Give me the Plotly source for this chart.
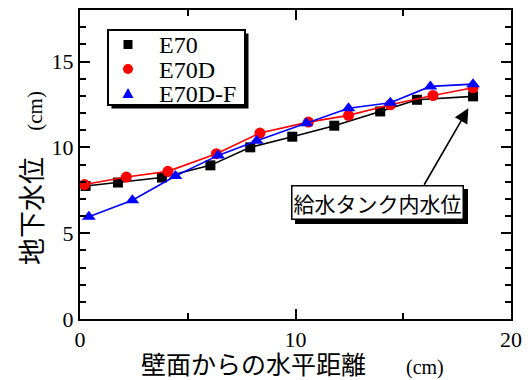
import plotly.graph_objects as go

# ---- data ----
e70_x = [0.26, 1.76, 3.80, 6.05, 7.90, 9.85, 11.80, 13.93, 15.64, 18.24]
e70_y = [7.75, 7.95, 8.24, 8.95, 10.00, 10.62, 11.26, 12.09, 12.77, 12.97]

e70d_x = [0.21, 2.15, 4.08, 6.33, 8.35, 10.60, 12.46, 14.40, 16.38, 18.24]
e70d_y = [7.83, 8.27, 8.60, 9.63, 10.83, 11.47, 11.86, 12.48, 13.02, 13.47]

e70df_x = [0.41, 2.43, 4.43, 6.41, 8.20, 10.50, 12.46, 14.40, 16.26, 18.24]
e70df_y = [5.95, 6.92, 8.33, 9.53, 10.38, 11.40, 12.28, 12.60, 13.55, 13.68]

series_names = ["E70", "E70D", "E70D-F"]
series_colors = ["black", "#ff0000", "#0000ff"]
x_title = "壁面からの水平距離"
y_title = "地下水位"
unit = "(cm)"
note_text = "給水タンク内水位"

SERIF = "Liberation Serif"
CJK = "Noto Sans CJK JP"

fig = go.Figure()
symbols = ["square", "circle", "triangle-up"]
msizes = [10, 11, 12]
for xs, ys, name, col, sym, ms in zip([e70_x, e70d_x, e70df_x], [e70_y, e70d_y, e70df_y],
                                      series_names, series_colors, symbols, msizes):
    fig.add_trace(go.Scatter(x=xs, y=ys, mode="lines+markers", name=name, showlegend=False,
                             line=dict(color=col, width=1.6),
                             marker=dict(symbol=sym, size=ms, color=col)))

L, R, T, B = 80, 19, 10, 61
W, H = 530, 380
pw, ph = W - L - R, H - T - B

def px(xp):
    return (xp - L) / pw

def py(yp):
    return (H - B - yp) / ph

axis_common = dict(showline=True, linecolor="black", linewidth=2, mirror="allticks",
                   ticks="inside", ticklen=10, tickwidth=1.5, tickcolor="black",
                   showgrid=False, zeroline=False, automargin=False,
                   tickfont=dict(family=SERIF, size=22, color="black"))

fig.update_xaxes(range=[0, 20], dtick=10, tick0=0,
                 minor=dict(dtick=5, ticks="inside", ticklen=6, tickwidth=1.5, tickcolor="black"),
                 **axis_common)
fig.update_yaxes(range=[0, 18], dtick=5, tick0=0,
                 minor=dict(dtick=1, ticks="inside", ticklen=6, tickwidth=1.5, tickcolor="black"),
                 **axis_common)

fig.update_layout(
    width=W, height=H,
    margin=dict(l=L, r=R, t=T, b=B, autoexpand=False),
    paper_bgcolor="white", plot_bgcolor="white",
    showlegend=False,
)

# ---- hand-drawn legend box (with drop shadow) ----
bx0, by0, bx1, by1 = 108, 30, 245, 105
fig.add_shape(type="rect", xref="paper", yref="paper", x0=px(bx0 + 3.5), x1=px(bx1 + 3.5),
              y0=py(by1 + 3.5), y1=py(by0 + 3.5), fillcolor="black", line=dict(width=0), layer="above")
fig.add_shape(type="rect", xref="paper", yref="paper", x0=px(bx0), x1=px(bx1),
              y0=py(by1), y1=py(by0), fillcolor="white", line=dict(color="black", width=2), layer="above")

legend_rows = [44.5, 69.0, 93.5]
mx = 128
# square
s = 4.5
fig.add_shape(type="rect", xref="paper", yref="paper", x0=px(mx - s), x1=px(mx + s),
              y0=py(legend_rows[0] + s), y1=py(legend_rows[0] - s),
              fillcolor=series_colors[0], line=dict(width=0), layer="above")
# circle
r = 5
fig.add_shape(type="circle", xref="paper", yref="paper", x0=px(mx - r), x1=px(mx + r),
              y0=py(legend_rows[1] + r), y1=py(legend_rows[1] - r),
              fillcolor=series_colors[1], line=dict(width=0), layer="above")
# triangle
ty = legend_rows[2]
tri = "M {:.4f} {:.4f} L {:.4f} {:.4f} L {:.4f} {:.4f} Z".format(
    px(mx - 5.5), py(ty + 4.5), px(mx + 5.5), py(ty + 4.5), px(mx), py(ty - 5.5))
fig.add_shape(type="path", xref="paper", yref="paper", path=tri,
              fillcolor=series_colors[2], line=dict(width=0), layer="above")

for name, yrow in zip(series_names, legend_rows):
    fig.add_annotation(x=px(157), y=py(yrow + 0.5), xref="paper", yref="paper",
                       xanchor="left", yanchor="middle", showarrow=False, text=name,
                       font=dict(family=SERIF, size=24, color="black"))

# ---- axis titles as annotations ----
fig.add_annotation(x=px(292), y=py(363), xref="paper", yref="paper", showarrow=False,
                   text=x_title + "<span style='font-family:Liberation Serif;font-size:20px'>\u2003\u2003" + unit + "</span>",
                   font=dict(family=CJK, size=25, color="black"),
                   xanchor="center", yanchor="middle")
fig.add_annotation(x=px(30), y=py(178), xref="paper", yref="paper", showarrow=False,
                   text=y_title + "<span style='font-family:Liberation Serif;font-size:21px'>\u2003 " + unit + "</span>",
                   textangle=-90, font=dict(family=CJK, size=27, color="black"),
                   xanchor="center", yanchor="middle")

# ---- note box with shadow and arrow ----
nbx, nby = 13.81, 6.77
fig.add_annotation(x=nbx, y=nby, showarrow=False, text=note_text, xshift=4, yshift=-4,
                   font=dict(family=CJK, size=21, color="black"),
                   bgcolor="black", bordercolor="black", borderwidth=1.5, borderpad=1)
fig.add_annotation(x=nbx, y=nby, showarrow=False, text=note_text,
                   font=dict(family=CJK, size=21, color="black"),
                   bgcolor="white", bordercolor="black", borderwidth=1.5, borderpad=1)
fig.add_annotation(x=18.02, y=12.27, text="", showarrow=True, axref="x", ayref="y",
                   ax=(423 - 80.5) / 21.5, ay=(319 - 186) / 17.2,
                   arrowhead=2, arrowsize=1.8, arrowwidth=1.6, arrowcolor="black", standoff=0)

fig.write_html("out.html")
